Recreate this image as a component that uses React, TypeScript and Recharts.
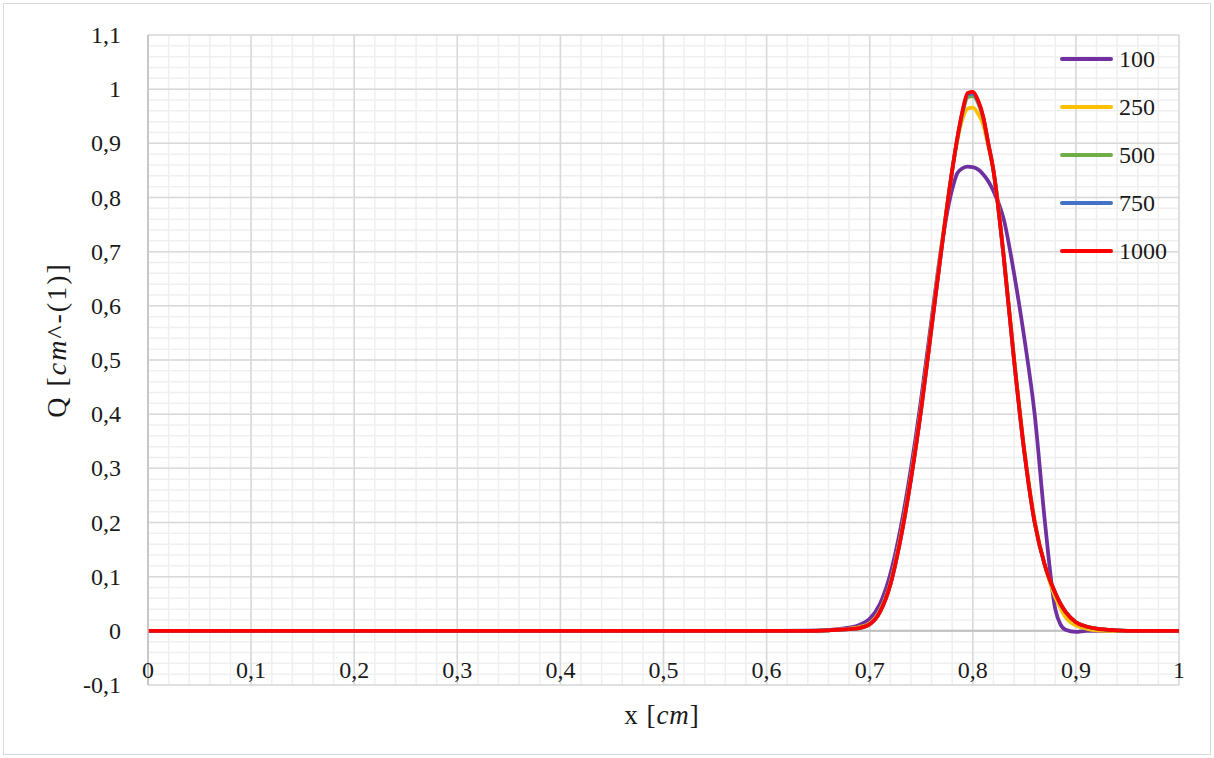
import { LineChart, Line, XAxis, YAxis, CartesianGrid, ReferenceLine } from 'recharts'

// sample positions along x [cm]
const xs = [
  0, 0.1, 0.2, 0.3, 0.4, 0.5, 0.6, 0.64, 0.66, 0.68, 0.69, 0.7, 0.71, 0.72, 0.73, 0.74, 0.75, 0.76, 0.77,
  0.78, 0.785, 0.79, 0.795, 0.8, 0.805, 0.81, 0.815, 0.82, 0.83, 0.84, 0.85, 0.86, 0.87, 0.88, 0.885,
  0.89, 0.9, 0.91, 0.92, 0.94, 0.96, 1,
]

const q100 = [
  0, 0, 0, 0, 0, 0, 0, 0.0005, 0.002, 0.006, 0.011, 0.022, 0.05, 0.105, 0.19, 0.3, 0.43, 0.575, 0.715,
  0.815, 0.845, 0.854, 0.857, 0.856, 0.852, 0.843, 0.83, 0.812, 0.76, 0.66, 0.54, 0.4, 0.2, 0.04, 0.012,
  0.002, -0.002, 0, 0, 0, 0, 0,
]

const q250 = [
  0, 0, 0, 0, 0, 0, 0, 0, 0.001, 0.004, 0.007, 0.014, 0.038, 0.088, 0.175, 0.285, 0.415, 0.565, 0.715,
  0.85, 0.905, 0.945, 0.964, 0.966, 0.955, 0.935, 0.895, 0.85, 0.695, 0.505, 0.335, 0.205, 0.12, 0.062, 0.042,
  0.025, 0.01, 0.004, 0.001, 0, 0, 0,
]

const q500 = [
  0, 0, 0, 0, 0, 0, 0, 0, 0.001, 0.003, 0.005, 0.012, 0.035, 0.085, 0.17, 0.28, 0.41, 0.56, 0.71,
  0.85, 0.908, 0.955, 0.985, 0.987, 0.975, 0.947, 0.9, 0.85, 0.69, 0.5, 0.33, 0.2, 0.12, 0.07, 0.05,
  0.035, 0.016, 0.008, 0.004, 0.001, 0, 0,
]

const q750 = [
  0, 0, 0, 0, 0, 0, 0, 0, 0.001, 0.003, 0.005, 0.012, 0.035, 0.085, 0.17, 0.28, 0.41, 0.56, 0.71,
  0.85, 0.909, 0.958, 0.99, 0.992, 0.978, 0.949, 0.9, 0.85, 0.69, 0.5, 0.33, 0.2, 0.12, 0.07, 0.05,
  0.035, 0.016, 0.008, 0.004, 0.001, 0, 0,
]

const q1000 = [
  0, 0, 0, 0, 0, 0, 0, 0, 0.001, 0.003, 0.005, 0.012, 0.035, 0.085, 0.17, 0.28, 0.41, 0.56, 0.71,
  0.85, 0.91, 0.96, 0.993, 0.995, 0.98, 0.95, 0.9, 0.85, 0.69, 0.5, 0.33, 0.2, 0.12, 0.07, 0.05,
  0.035, 0.016, 0.008, 0.004, 0.001, 0, 0,
]

const series = [
  { key: 'q100', name: '100', color: '#7030A0', values: q100 },
  { key: 'q250', name: '250', color: '#FFC000', values: q250 },
  { key: 'q500', name: '500', color: '#70AD47', values: q500 },
  { key: 'q750', name: '750', color: '#4472C4', values: q750 },
  { key: 'q1000', name: '1000', color: '#FF0000', values: q1000 },
]

const xTicks = [0, 0.1, 0.2, 0.3, 0.4, 0.5, 0.6, 0.7, 0.8, 0.9, 1]
const yTicks = [-0.1, 0, 0.1, 0.2, 0.3, 0.4, 0.5, 0.6, 0.7, 0.8, 0.9, 1, 1.1]
// minor grid every 0.02
const xMinor = Array.from({ length: 51 }, (_, i) => i / 50)
const yMinor = Array.from({ length: 61 }, (_, i) => (i - 5) / 50)

const rows = xs.map((x, i) => {
  const row: Record<string, number> = { x }
  series.forEach(s => { row[s.key] = s.values[i] })
  return row
})

const FONT = '"Liberation Serif", "DejaVu Serif", serif'
const TXT = '#1a1a1a'

const fmt = (v: number) => String(Math.round(v * 10) / 10).replace('.', ',')

const XTick = ({ x, y, payload }: any) => (
  <text x={x} y={y} dy={-9} textAnchor="middle" fontSize={24} style={{ fontFamily: FONT }} fill={TXT}>
    {fmt(payload.value)}
  </text>
)

const YTick = ({ x, y, payload }: any) => (
  <text x={x} y={y} dy={8} textAnchor="end" fontSize={24} style={{ fontFamily: FONT }} fill={TXT}>
    {fmt(payload.value)}
  </text>
)

export default function App() {
  return (
    <div style={{ position: 'absolute', left: 0, top: 0, width: 1214, height: 758, background: '#fff' }}>
      <div style={{ position: 'absolute', left: 3, top: 3, width: 1206, height: 750, border: '1px solid #d9d9d9' }} />
      <LineChart width={1214} height={758} data={rows} margin={{ top: 35, right: 35, bottom: 43, left: 48 }}>
        <XAxis xAxisId="minor" type="number" dataKey="x" domain={[0, 1]} ticks={xMinor} interval={0} hide />
        <YAxis
          yAxisId="minor"
          type="number"
          dataKey="q1000"
          domain={[-0.1, 1.1]}
          allowDataOverflow
          ticks={yMinor}
          interval={0}
          hide
        />
        <CartesianGrid xAxisId="minor" yAxisId="minor" stroke="#efefef" strokeWidth={1.5} />
        <CartesianGrid stroke="#d9d9d9" strokeWidth={1.5} />
        <XAxis
          type="number"
          dataKey="x"
          domain={[0, 1]}
          ticks={xTicks}
          height={30}
          tickSize={0}
          tickLine={false}
          axisLine={false}
          tick={<XTick />}
          interval={0}
        />
        <YAxis
          type="number"
          domain={[-0.1, 1.1]}
          ticks={yTicks}
          width={100}
          tickSize={0}
          tickMargin={27}
          tickLine={false}
          axisLine={{ stroke: '#bfbfbf', strokeWidth: 1.5 }}
          tick={<YTick />}
          interval={0}
          label={{
            content: () => (
              <text
                transform="translate(66,340) rotate(-90)"
                textAnchor="middle"
                fontSize={28}
                letterSpacing={2}
                style={{ fontFamily: FONT }}
                fill={TXT}
              >
                <tspan>Q [</tspan>
                <tspan fontStyle="italic">cm</tspan>
                <tspan>^-(1)]</tspan>
              </text>
            ),
          }}
        />
        <ReferenceLine y={0} stroke="#bfbfbf" strokeWidth={2} />
        {series.map(s => (
          <Line
            key={s.key}
            type="monotone"
            dataKey={s.key}
            stroke={s.color}
            strokeWidth={3.75}
            dot={false}
            isAnimationActive={false}
          />
        ))}
        <text x={662} y={724} textAnchor="middle" fontSize={27} letterSpacing={1} style={{ fontFamily: FONT }} fill={TXT}>
          <tspan>x [</tspan>
          <tspan fontStyle="italic">cm</tspan>
          <tspan>]</tspan>
        </text>
      </LineChart>
      {/* legend, top right inside the plot */}
      <div style={{ position: 'absolute', left: 1060, top: 35 }}>
        {series.map(s => (
          <div key={s.key} style={{ display: 'flex', alignItems: 'center', height: 48 }}>
            <div style={{ width: 53, height: 3.5, borderRadius: 2, background: s.color }} />
            <span style={{ marginLeft: 6, fontSize: 24, fontFamily: FONT, color: TXT }}>{s.name}</span>
          </div>
        ))}
      </div>
    </div>
  )
}
